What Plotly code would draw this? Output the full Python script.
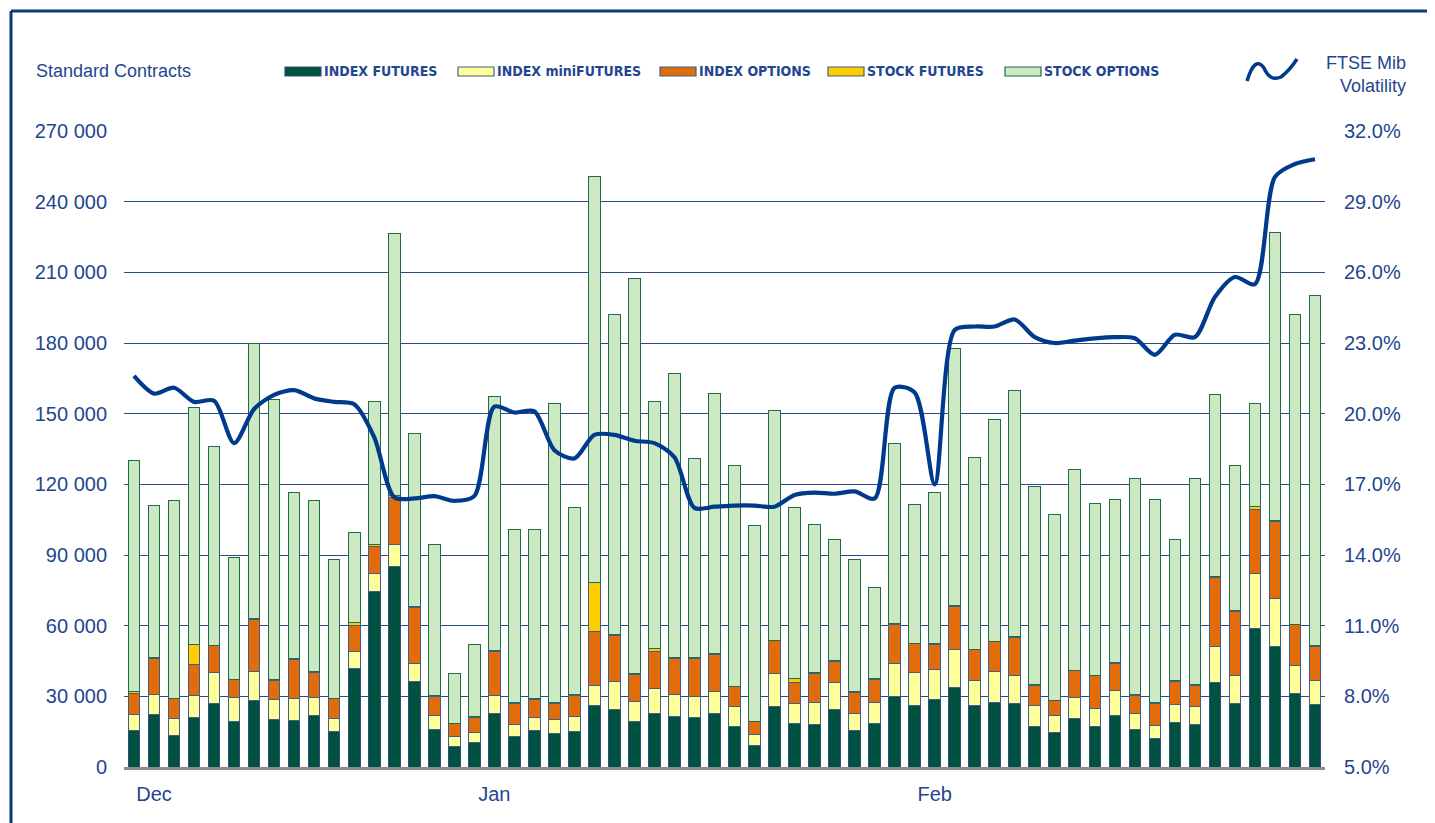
import plotly.graph_objects as go

# ---------------- data ----------------
days = list(range(60))
month_labels = ["Dec", "Jan", "Feb"]
month_pos = [1, 18, 40]

index_futures = [15300, 22400, 13200, 20900, 27000, 19500, 28400, 20200, 19800, 21900,
                 14900, 41700, 74700, 85000, 36200, 16000, 8900, 10300, 22800, 12900,
                 15300, 14300, 15000, 25900, 24500, 19200, 22600, 21400, 21100, 22600,
                 17000, 9300, 25600, 18300, 18000, 24500, 15300, 18400, 30100, 26300,
                 28700, 33700, 25900, 27500, 26900, 17100, 14600, 20400, 17000, 21700,
                 16000, 12300, 18800, 18100, 35700, 27000, 58700, 51200, 31400, 26600]
index_minifutures = [6800, 8500, 7500, 9500, 13200, 10200, 12300, 8500, 9200, 7800,
                     5800, 7500, 7500, 9500, 7600, 5900, 4000, 4400, 7600, 5000,
                     5900, 5800, 6500, 8900, 11700, 8800, 10900, 9200, 8800, 9300,
                     8500, 4500, 14000, 8600, 9200, 11500, 7600, 8900, 13700, 13900,
                     12700, 16000, 10800, 13000, 12000, 9100, 7400, 9100, 7800, 10600,
                     6900, 5500, 7600, 7500, 15300, 11700, 23500, 20400, 11900, 10300]
index_options = [9200, 15300, 8300, 13200, 11300, 7400, 21900, 8100, 16700, 10300,
                 8300, 10900, 11600, 19800, 23800, 8200, 5400, 6400, 18800, 9100,
                 7500, 6900, 8900, 22900, 19500, 11300, 15600, 15400, 16300, 15800,
                 8500, 5400, 13900, 8800, 12500, 8800, 8800, 10000, 16700, 12200,
                 10800, 18400, 13000, 12700, 16100, 8600, 6200, 11300, 14000, 11700,
                 7600, 9200, 10000, 9200, 29400, 27200, 27300, 32500, 17000, 14300]
stock_futures = [700, 300, 200, 8200, 200, 200, 300, 200, 200, 400,
                 200, 1400, 700, 1000, 700, 400, 100, 200, 400, 400,
                 200, 200, 400, 20500, 500, 400, 1300, 300, 300, 400,
                 200, 200, 300, 2000, 300, 300, 200, 200, 400, 200,
                 200, 400, 200, 200, 300, 200, 200, 200, 200, 400,
                 200, 200, 200, 200, 400, 600, 900, 400, 400, 200]
stock_options = [98000, 64500, 83800, 100700, 84300, 51700, 117100, 119000, 70600, 72600,
                 58800, 38000, 60500, 111200, 73200, 64000, 21100, 30700, 107900, 73600,
                 72100, 127300, 79200, 172300, 135800, 167800, 104600, 120700, 84500, 110400,
                 93800, 83100, 97700, 72300, 63000, 51400, 56100, 38500, 76600, 58900,
                 64100, 109000, 81600, 94100, 104700, 84000, 78600, 85500, 73000, 69100,
                 91800, 86300, 59900, 87500, 77200, 61500, 44100, 122500, 131300, 148600]
ftse_mib_volatility = [21.6, 20.85, 21.1, 20.5, 20.55, 18.75, 20.2, 20.8, 21.0, 20.65,
                       20.5, 20.4, 19.0, 16.45, 16.4, 16.5, 16.3, 16.5, 20.3, 20.05,
                       20.1, 18.45, 18.1, 19.1, 19.1, 18.85, 18.75, 18.15, 16.0, 16.05,
                       16.1, 16.1, 16.05, 16.55, 16.65, 16.6, 16.7, 16.4, 21.1, 20.9,
                       17.0, 23.55, 23.7, 23.7, 24.0, 23.25, 23.0, 23.1, 23.2, 23.25,
                       23.2, 22.5, 23.35, 23.25, 24.95, 25.8, 25.5, 30.05, 30.6, 30.8]

series = [
    ("INDEX FUTURES", index_futures, "#00513F", "#2E4F7C"),
    ("INDEX miniFUTURES", index_minifutures, "#FFFF99", "#3E5E8C"),
    ("INDEX OPTIONS", index_options, "#E36C0A", "#3E5E8C"),
    ("STOCK FUTURES", stock_futures, "#FFCC00", "#3E5E8C"),
    ("STOCK OPTIONS", stock_options, "#CDE9C3", "#1F6B4C"),
]

# ---------------- layout geometry (reference pixel coords) ----------------
OFF = 8  # default page body margin
W, H = 1435 - OFF, 823 - OFF
L, R, T, B = 124, 1325, 131, 767
TXT = "#1F4690"
NAVY = "#0B3A84"


def px(x):
    return (x - L) / (R - L)


def py(y):
    return (B - y) / (B - T)


fig = go.Figure()
for name, vals, col, lc in series:
    fig.add_trace(go.Bar(x=days, y=vals, name=name, marker_color=col,
                         marker_line_color=lc, marker_line_width=1,
                         showlegend=False))

fig.add_trace(go.Scatter(x=days, y=ftse_mib_volatility, yaxis="y2", mode="lines",
                         line=dict(color="#003A8C", width=4.2, shape="spline", smoothing=0.8),
                         name="FTSE Mib Volatility", showlegend=False))

shapes = []
annotations = []

# outer frame (left and top edges)
shapes.append(dict(type="line", xref="paper", yref="paper", x0=px(11), x1=px(1440),
                   y0=py(11), y1=py(11), line=dict(color=NAVY, width=3)))
shapes.append(dict(type="line", xref="paper", yref="paper", x0=px(11), x1=px(11),
                   y0=py(11), y1=py(830), line=dict(color=NAVY, width=3)))

annotations.append(dict(text="Standard Contracts", xref="paper", yref="paper",
                        x=px(34), y=py(71), xanchor="left", yanchor="middle", showarrow=False,
                        font=dict(family="Liberation Sans, Arial", size=18, color=TXT)))

legend_items = [
    ("INDEX FUTURES", 285, 321, "#00513F", "#2E4F7C"),
    ("INDEX miniFUTURES", 458, 494, "#FFFF99", "#3E5E8C"),
    ("INDEX OPTIONS", 660, 696, "#E36C0A", "#3E5E8C"),
    ("STOCK FUTURES", 828, 864, "#FFCC00", "#3E5E8C"),
    ("STOCK OPTIONS", 1005, 1041, "#CDE9C3", "#1F6B4C"),
]
for name, x0, x1, col, lc in legend_items:
    shapes.append(dict(type="rect", xref="paper", yref="paper", x0=px(x0), x1=px(x1),
                       y0=py(76), y1=py(67), fillcolor=col, line=dict(color=lc, width=1.2)))
    annotations.append(dict(text="<b>" + name + "</b>", xref="paper", yref="paper",
                            x=px(x1 + 1), y=py(71.5), xanchor="left", yanchor="middle",
                            showarrow=False,
                            font=dict(family="Liberation Sans Narrow, Arial Narrow, DejaVu Sans Condensed",
                                      size=14, color=TXT)))

# wavy line icon for volatility
path = "M {},{} Q {},{} {},{} Q {},{} {},{} Q {},{} {},{}".format(
    px(1247), py(81), px(1255), py(55), px(1264), py(68),
    px(1270), py(82), px(1281), py(77), px(1290), py(70), px(1297), py(59))
shapes.append(dict(type="path", xref="paper", yref="paper", path=path,
                   line=dict(color="#003A8C", width=3.5)))
annotations.append(dict(text="FTSE Mib", xref="paper", yref="paper", x=px(1408), y=py(63),
                        xanchor="right", yanchor="middle", showarrow=False,
                        font=dict(family="Liberation Sans, Arial", size=18, color=TXT)))
annotations.append(dict(text="Volatility", xref="paper", yref="paper", x=px(1408), y=py(86),
                        xanchor="right", yanchor="middle", showarrow=False,
                        font=dict(family="Liberation Sans, Arial", size=18, color=TXT)))

fig.update_layout(
    width=W, height=H,
    margin=dict(l=L - OFF, r=1435 - R, t=T - OFF, b=823 - B, pad=0),
    paper_bgcolor="white", plot_bgcolor="white",
    barmode="stack", bargap=0.42,
    separators=". ",
    font=dict(family="Liberation Sans, Arial", size=20, color=TXT),
    xaxis=dict(range=[-0.5, 59.5], tickmode="array", tickvals=month_pos, ticktext=month_labels,
               showgrid=False, showline=True, linecolor="#8C8C8C", linewidth=3,
               ticks="", ticklabelstandoff=7, zeroline=False,
               tickfont=dict(size=20, color=TXT)),
    yaxis=dict(range=[0, 270000], dtick=30000, tickformat=",d", showgrid=True,
               gridcolor="#2A4C8C", gridwidth=1.4, zeroline=False, ticks="",
               ticklabelstandoff=16, tickfont=dict(size=20, color=TXT)),
    yaxis2=dict(range=[5, 32], tick0=5, dtick=3, tickformat=".1f", ticksuffix="%",
                overlaying="y", side="right", showgrid=False, zeroline=False, ticks="",
                ticklabelstandoff=18, tickfont=dict(size=20, color=TXT)),
    shapes=shapes, annotations=annotations,
    showlegend=False,
)

fig.write_html("out.html")
